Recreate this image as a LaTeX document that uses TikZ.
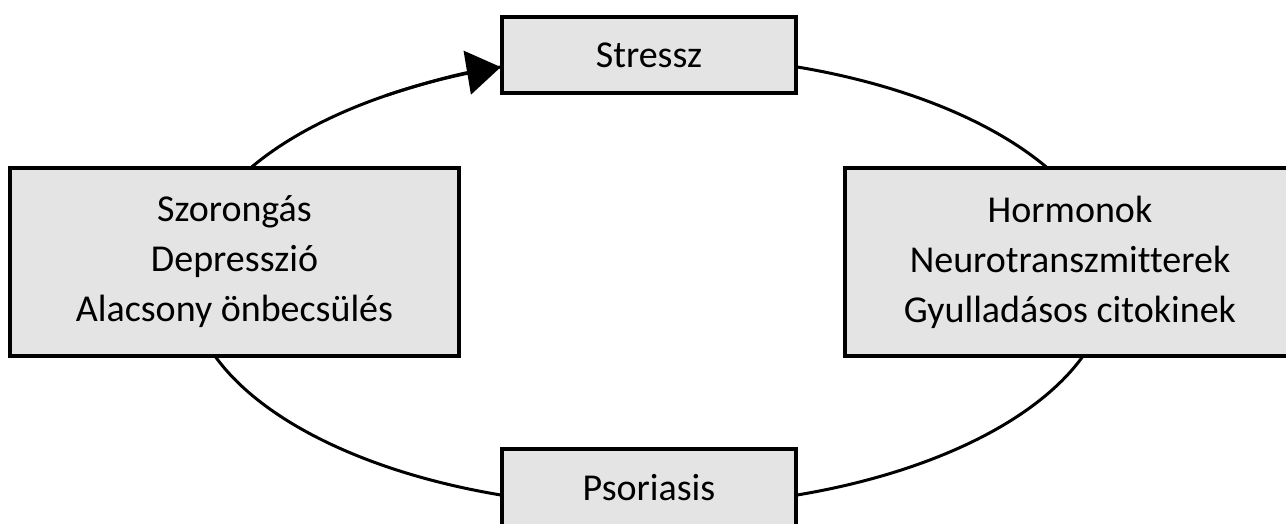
\documentclass[tikz,border=0pt]{standalone}
\usepackage{fontspec}
\setmainfont{Carlito}[Ligatures=NoCommon]
\usetikzlibrary{arrows.meta,calc}
\definecolor{boxgray}{HTML}{E4E4E4}
\begin{document}
\begin{tikzpicture}[x=1pt,y=1pt,
  box/.style={draw=black, line width=3.3pt, fill=boxgray, inner sep=0pt, align=center,
    font=\fontsize{38}{50}\selectfont, text=black},
  cyclearc/.style={draw=black, line width=3pt}]
\useasboundingbox (0,0) rectangle (1286,524);
\clip (0,0) rectangle (1286,524);
\coordinate (c) at (649,243);
\draw[cyclearc] (c) ellipse [x radius=460, y radius=226];
\node[box, minimum width=294, minimum height=76] (stressz) at (649,469) {Stressz};
\node[box, minimum width=294, minimum height=77] (psor) at (649,36.5) {Psoriasis};
\node[box, minimum width=449, minimum height=188] (left) at (234.5,262) {Szorongás\\Depresszió\\Alacsony önbecsülés};
\node[box, minimum width=450, minimum height=188] (right) at (1070,262) {Hormonok\\Neurotranszmitterek\\Gyulladásos citokinek};
\coordinate (arcstart) at ($(c)+(125:460 and 226)$);
\draw[cyclearc, -{Triangle[length=34pt,width=44pt]}] (arcstart) arc[start angle=125, end angle=108.8, x radius=460, y radius=226];
\end{tikzpicture}
\end{document}
